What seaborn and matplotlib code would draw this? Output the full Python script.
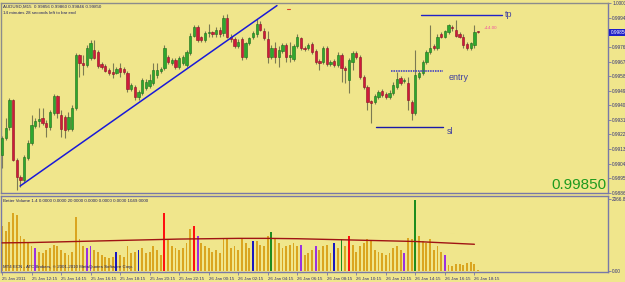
import numpy as np
import pandas as pd
import matplotlib
matplotlib.use("Agg")
import matplotlib.pyplot as plt
import seaborn as sns

# ---------------- data (AUDUSD M15) ----------------
opens = [0.99092, 0.99197, 0.99265, 0.99431, 0.99061, 0.98957, 0.98938, 0.99074, 0.99166, 0.99271,
         0.99302, 0.99320, 0.99289, 0.99265, 0.99351, 0.99456, 0.99339, 0.99326, 0.99252, 0.99252,
         0.99382, 0.99708, 0.99659, 0.99647, 0.99690, 0.99739, 0.99727, 0.99653, 0.99640, 0.99616,
         0.99604, 0.99597, 0.99628, 0.99622, 0.99597, 0.99499, 0.99511, 0.99449, 0.99474, 0.99505,
         0.99517, 0.99536, 0.99585, 0.99610, 0.99628, 0.99696, 0.99659, 0.99677, 0.99634, 0.99659,
         0.99647, 0.99721, 0.99831, 0.99881, 0.99819, 0.99801, 0.99844, 0.99850, 0.99838, 0.99868,
         0.99844, 0.99942, 0.99825, 0.99807, 0.99764, 0.99807, 0.99696, 0.99782, 0.99819, 0.99838,
         0.99905, 0.99862, 0.99807, 0.99696, 0.99751, 0.99696, 0.99733, 0.99770, 0.99696, 0.99684,
         0.99764, 0.99813, 0.99751, 0.99751, 0.99776, 0.99733, 0.99671, 0.99665, 0.99751, 0.99653,
         0.99671, 0.99647, 0.99708, 0.99628, 0.99554, 0.99665, 0.99721, 0.99696, 0.99573, 0.99511,
         0.99425, 0.99419, 0.99449, 0.99486, 0.99468, 0.99449, 0.99474, 0.99511, 0.99567, 0.99548,
         0.99536, 0.99419, 0.99351, 0.99573, 0.99597, 0.99665, 0.99727, 0.99764, 0.99751, 0.99838,
         0.99825, 0.99850, 0.99881, 0.99868, 0.99838, 0.99825, 0.99776, 0.99751, 0.99770, 0.99856]
highs = [0.99209, 0.99320, 0.99443, 0.99437, 0.99074, 0.98969, 0.99092, 0.99185, 0.99339, 0.99320,
         0.99382, 0.99382, 0.99308, 0.99369, 0.99468, 0.99462, 0.99369, 0.99339, 0.99357, 0.99400,
         0.99721, 0.99714, 0.99708, 0.99770, 0.99801, 0.99801, 0.99739, 0.99665, 0.99653, 0.99628,
         0.99659, 0.99634, 0.99659, 0.99634, 0.99610, 0.99536, 0.99523, 0.99493, 0.99567, 0.99560,
         0.99591, 0.99659, 0.99659, 0.99634, 0.99770, 0.99708, 0.99690, 0.99690, 0.99702, 0.99708,
         0.99739, 0.99844, 0.99899, 0.99893, 0.99831, 0.99856, 0.99905, 0.99862, 0.99881, 0.99881,
         0.99955, 0.99967, 0.99838, 0.99819, 0.99807, 0.99819, 0.99794, 0.99825, 0.99856, 0.99936,
         0.99918, 0.99875, 0.99862, 0.99770, 0.99788, 0.99764, 0.99782, 0.99782, 0.99788, 0.99776,
         0.99838, 0.99825, 0.99764, 0.99782, 0.99794, 0.99745, 0.99684, 0.99764, 0.99764, 0.99677,
         0.99684, 0.99727, 0.99721, 0.99640, 0.99690, 0.99733, 0.99733, 0.99708, 0.99585, 0.99523,
         0.99431, 0.99468, 0.99493, 0.99499, 0.99480, 0.99493, 0.99542, 0.99604, 0.99579, 0.99567,
         0.99573, 0.99431, 0.99739, 0.99610, 0.99677, 0.99739, 0.99893, 0.99776, 0.99838, 0.99850,
         0.99868, 0.99905, 0.99893, 0.99924, 0.99850, 0.99838, 0.99788, 0.99794, 0.99893, 0.99860]
lows = [0.99012, 0.99185, 0.99246, 0.99055, 0.98877, 0.98895, 0.98926, 0.99061, 0.99154, 0.99259,
        0.99265, 0.99277, 0.99203, 0.99246, 0.99339, 0.99320, 0.99203, 0.99197, 0.99240, 0.99240,
        0.99369, 0.99573, 0.99585, 0.99634, 0.99677, 0.99684, 0.99628, 0.99622, 0.99604, 0.99585,
        0.99567, 0.99591, 0.99573, 0.99591, 0.99480, 0.99486, 0.99431, 0.99431, 0.99462, 0.99493,
        0.99505, 0.99523, 0.99567, 0.99597, 0.99616, 0.99653, 0.99647, 0.99622, 0.99622, 0.99647,
        0.99634, 0.99708, 0.99825, 0.99788, 0.99788, 0.99788, 0.99819, 0.99825, 0.99825, 0.99825,
        0.99831, 0.99813, 0.99794, 0.99751, 0.99751, 0.99677, 0.99684, 0.99770, 0.99807, 0.99825,
        0.99856, 0.99801, 0.99659, 0.99684, 0.99659, 0.99634, 0.99721, 0.99665, 0.99665, 0.99671,
        0.99751, 0.99739, 0.99733, 0.99739, 0.99714, 0.99653, 0.99616, 0.99653, 0.99640, 0.99640,
        0.99634, 0.99634, 0.99542, 0.99536, 0.99474, 0.99616, 0.99684, 0.99560, 0.99499, 0.99369,
        0.99289, 0.99406, 0.99437, 0.99449, 0.99437, 0.99437, 0.99462, 0.99499, 0.99523, 0.99536,
        0.99369, 0.99308, 0.99339, 0.99560, 0.99585, 0.99653, 0.99714, 0.99739, 0.99739, 0.99813,
        0.99813, 0.99838, 0.99862, 0.99819, 0.99813, 0.99757, 0.99739, 0.99739, 0.99757, 0.99846]
closes = [0.99197, 0.99259, 0.99431, 0.99061, 0.98957, 0.98938, 0.99080, 0.99166, 0.99277, 0.99302,
          0.99314, 0.99289, 0.99265, 0.99357, 0.99456, 0.99351, 0.99252, 0.99246, 0.99326, 0.99382,
          0.99708, 0.99659, 0.99647, 0.99751, 0.99782, 0.99690, 0.99640, 0.99634, 0.99610, 0.99597,
          0.99591, 0.99622, 0.99604, 0.99604, 0.99499, 0.99523, 0.99449, 0.99480, 0.99554, 0.99542,
          0.99554, 0.99616, 0.99616, 0.99622, 0.99757, 0.99665, 0.99677, 0.99634, 0.99690, 0.99696,
          0.99727, 0.99831, 0.99881, 0.99801, 0.99801, 0.99844, 0.99850, 0.99838, 0.99868, 0.99838,
          0.99942, 0.99825, 0.99807, 0.99764, 0.99794, 0.99696, 0.99782, 0.99813, 0.99844, 0.99905,
          0.99868, 0.99813, 0.99696, 0.99751, 0.99696, 0.99739, 0.99770, 0.99696, 0.99708, 0.99764,
          0.99819, 0.99751, 0.99745, 0.99770, 0.99727, 0.99665, 0.99659, 0.99751, 0.99653, 0.99665,
          0.99647, 0.99708, 0.99628, 0.99616, 0.99677, 0.99721, 0.99696, 0.99573, 0.99511, 0.99419,
          0.99413, 0.99456, 0.99480, 0.99462, 0.99449, 0.99474, 0.99523, 0.99560, 0.99536, 0.99554,
          0.99431, 0.99351, 0.99585, 0.99597, 0.99665, 0.99727, 0.99757, 0.99751, 0.99825, 0.99825,
          0.99856, 0.99893, 0.99875, 0.99831, 0.99825, 0.99770, 0.99751, 0.99782, 0.99850, 0.99850]

volumes = [1300, 1150, 1400, 1650, 1600, 1000, 900, 800, 700, 650,
           550, 500, 600, 650, 750, 700, 600, 500, 450, 550,
           1550, 900, 700, 650, 700, 600, 550, 450, 400, 350,
           400, 550, 450, 400, 700, 500, 550, 600, 650, 500,
           550, 700, 600, 450, 1650, 900, 700, 650, 600, 650,
           800, 1200, 1300, 1000, 800, 700, 650, 550, 600, 500,
           900, 950, 650, 700, 600, 900, 800, 650, 850, 850,
           750, 700, 1000, 1100, 900, 800, 650, 700, 750, 800,
           700, 750, 450, 500, 600, 700, 600, 700, 750, 500,
           800, 650, 900, 700, 1000, 750, 550, 700, 800, 900,
           850, 600, 550, 500, 450, 500, 650, 700, 600, 500,
           950, 900, 2050, 1000, 850, 800, 900, 600, 700, 550,
           450, 150, 120, 200, 180, 170, 220, 260, 200, 30]
special_kind = {9: "climax churn", 23: "climax churn", 24: "climax churn", 31: "low churn",
                37: "low churn", 44: "climax up", 52: "climax up", 53: "climax churn",
                68: "low churn", 73: "churn", 81: "climax churn", 85: "climax churn",
                90: "low churn", 92: "churn", 94: "climax up", 109: "climax churn",
                112: "churn", 120: "climax churn"}
ma_index = [0, 8, 16, 24, 32, 40, 48, 56, 64, 72, 80, 88, 96, 104, 112, 120, 128]
ma_values = [800, 810, 830, 850, 870, 890, 910, 920, 930, 930, 920, 900, 880, 860, 840, 800, 760]

time_labels = ["25 Jan 2011", "25 Jan 12:15", "25 Jan 14:15", "25 Jan 16:15", "25 Jan 18:15",
               "25 Jan 20:15", "25 Jan 22:15", "26 Jan 00:15", "26 Jan 02:15", "26 Jan 04:15",
               "26 Jan 06:15", "26 Jan 08:15", "26 Jan 10:15", "26 Jan 12:15", "26 Jan 14:15",
               "26 Jan 16:15", "26 Jan 18:15"]
price_ticks = [1.00030, 0.99940, 0.99850, 0.99760, 0.99670, 0.99580, 0.99490, 0.99400,
               0.99310, 0.99220, 0.99130, 0.99040, 0.98950, 0.98860]
current_price = 0.99850
trend_x = [4.9, 74.5]
trend_y = [0.98901, 1.00016]
tp_level, entry_level, sl_level = 0.99959, 0.99613, 0.99265

# ---------------- styling ----------------
sns.set_theme(style="white")
plt.rcParams['font.family'] = ['Liberation Sans', 'DejaVu Sans']

BG = "#F0E68C"
NAVY = "#30307A"
SMALL = 3.2
AXIS = 3.4
W, H = 625, 282
def fx(px): return px / W
def fy(py): return 1 - py / H

fig = plt.figure(figsize=(6.25, 2.82), dpi=100)
fig.patch.set_facecolor(BG)
ax = fig.add_axes([fx(1), fy(193), fx(608) - fx(1), fy(3) - fy(193)])
axv = fig.add_axes([fx(1), fy(272), fx(608) - fx(1), fy(196) - fy(272)])
for a in (ax, axv):
    a.set_facecolor(BG)
    for s in a.spines.values():
        s.set_color("#7878A8")
        s.set_linewidth(1.0)
ax.spines["top"].set_color("#8C8C8C")
ax.spines["left"].set_color("#8C8C8C")

n = len(opens)
idx = np.arange(n)
o = np.array(opens); h = np.array(highs); l = np.array(lows); c = np.array(closes)
up = c >= o

# candles
ax.vlines(idx, l, h, color="#7C7A52", lw=0.8, zorder=2)
body_bottom = np.minimum(o, c)
body_h = np.maximum(np.abs(c - o), 0.000025)
ax.bar(idx, body_h, bottom=body_bottom, width=0.62,
       color=np.where(up, "#2EA82E", "#D01A3A"),
       edgecolor=np.where(up, "#1C6E1C", "#8A1026"), linewidth=0.4, zorder=3)

# trend line and levels
sns.lineplot(x=trend_x, y=trend_y, color="#1A1AD8", lw=1.1, ax=ax, zorder=4)
ax.plot([113.6, 135.5], [tp_level, tp_level], color="#2222C8", lw=1.0, zorder=4)
ax.plot([105.4, 119.5], [entry_level, entry_level], color="#3434C8", lw=1.1, ls=(0, (1, 0.6)), zorder=4)
ax.plot([101.4, 119.5], [sl_level, sl_level], color="#1A1AA8", lw=1.0, zorder=4)
ax.text(136.3, tp_level, "tp", fontsize=6.5, color="#4040A0", va="center", ha="left")
ax.text(121.0, entry_level - 0.0004, "entry", fontsize=6.5, color="#4040A0", va="center", ha="left")
ax.text(120.5, sl_level - 0.0003, "sl", fontsize=6.5, color="#4040A0", va="center", ha="left")
ax.text(130.5, 0.99879, "+14.00", fontsize=3.2, color="#F050A0", va="center", ha="left")
ax.plot([77.3, 78.0], [0.99996, 0.99996], color="#E04030", lw=0.8)

ax.set_xlim(-0.27, 164.2)
ax.set_ylim(0.98858, 1.00032)
ax.yaxis.tick_right()
ax.set_yticks(price_ticks)
# the current-price box takes the place of the tick label at that level
ax.set_yticklabels(["" if abs(v - current_price) < 1e-7 else f"{v:.5f}" for v in price_ticks])
ax.tick_params(axis="y", labelsize=AXIS, labelcolor=NAVY, color="#7878A8", length=2, width=0.6, pad=1, right=True, left=False)
ax.set_xticks([])
ax.set_xlabel(""); ax.set_ylabel("")

# current price label on axis
ax.text(1.004, current_price, f"{current_price:.5f}", transform=ax.get_yaxis_transform(),
        fontsize=AXIS, color="white", va="center", ha="left", zorder=6,
        bbox=dict(boxstyle="square,pad=0.2", fc="#2020C8", ec="none"))
# big price
ax.text(0.998, 0.005, "0.99850", transform=ax.transAxes, fontsize=11, color="#1E9A1E",
        ha="right", va="bottom")

# ---------------- volume panel ----------------
palette = {"normal": "#DAA520", "climax churn": "#9A30E0", "low churn": "#1818C0",
           "climax up": "#FF1010", "churn": "#1E8C1E"}
bar_colors = [palette[special_kind.get(i, "normal")] for i in range(n)]
axv.bar(idx, volumes, width=0.5, color=bar_colors, linewidth=0, zorder=2)
sns.lineplot(x=ma_index, y=ma_values, color="#A01414", lw=1.0, ax=axv, zorder=3)

axv.set_xlim(-0.27, 164.2)
axv.set_ylim(-40, 2152)
axv.yaxis.tick_right()
axv.set_yticks([0, 2066.81])
axv.set_yticklabels(["0.00", "2066.81"])
axv.tick_params(axis="y", labelsize=AXIS, labelcolor=NAVY, color="#7878A8", length=2, width=0.6, pad=1, right=True, left=False)
axv.set_xticks(np.arange(0, 129, 8))
axv.set_xticklabels(time_labels, ha="left")
axv.tick_params(axis="x", labelsize=SMALL, labelcolor=NAVY, color="#7878A8", length=2, width=0.6, pad=1.5, bottom=True)
axv.set_xlabel(""); axv.set_ylabel("")

# header texts
fig.text(fx(3), fy(7), "AUDUSD,M15  0.99856 0.99860 0.99846 0.99850", fontsize=SMALL, color="#202060", va="center")
fig.text(fx(3), fy(13.5), "14 minutes 28 seconds left to bar end", fontsize=SMALL, color="#202060", va="center")
fig.text(fx(3), fy(200.5), "Better Volume 1.4 0.0000 0.0000 20.0000 0.0000 0.0000 0.0000 1049.0000",
         fontsize=SMALL, color="#202060", va="center")
fig.text(fx(3), fy(267), "MT4 ECN - ATC Brokers, \u00a9 2001-2010 MetaQuotes Software Corp.",
         fontsize=SMALL, color="#202060", va="center", zorder=5)

fig.savefig("out.png", dpi=100, facecolor=BG)
